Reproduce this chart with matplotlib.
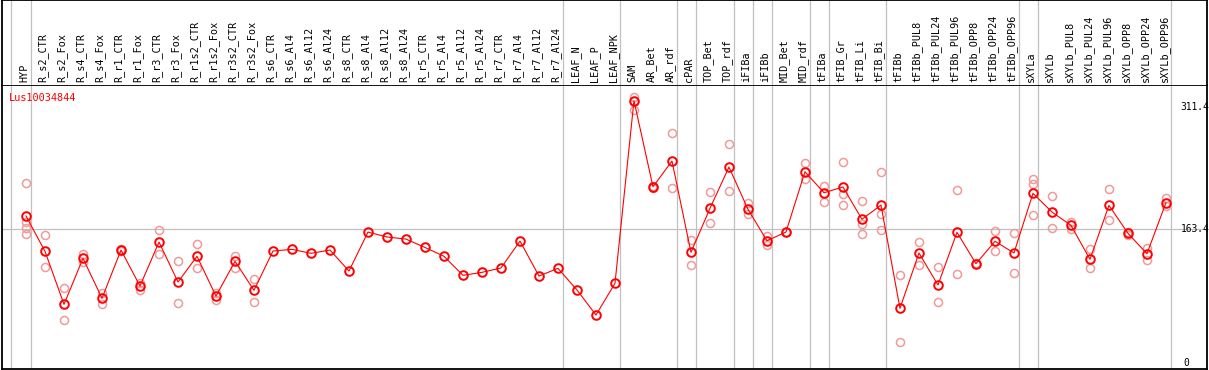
import numpy as np
import matplotlib
matplotlib.use('Agg')
import matplotlib.pyplot as plt

# sample names along the top
labels = ['HYP', 'R_s2_CTR', 'R_s2_Fox', 'R_s4_CTR', 'R_s4_Fox', 'R_r1_CTR', 'R_r1_Fox',
          'R_r3_CTR', 'R_r3_Fox', 'R_r1s2_CTR', 'R_r1s2_Fox', 'R_r3s2_CTR', 'R_r3s2_Fox',
          'R_s6_CTR', 'R_s6_Al4', 'R_s6_Al12', 'R_s6_Al24', 'R_s8_CTR', 'R_s8_Al4',
          'R_s8_Al12', 'R_s8_Al24', 'R_r5_CTR', 'R_r5_Al4', 'R_r5_Al12', 'R_r5_Al24',
          'R_r7_CTR', 'R_r7_Al4', 'R_r7_Al12', 'R_r7_Al24', 'LEAF_N', 'LEAF_P', 'LEAF_NPK',
          'SAM', 'AR_Bet', 'AR_rdf', 'cPAR', 'TOP_Bet', 'TOP_rdf', 'iFIBa', 'iFIBb',
          'MID_Bet', 'MID_rdf', 'tFIBa', 'tFIB_Gr', 'tFIB_Li', 'tFIB_Bi', 'tFIBb',
          'tFIBb_PUL8', 'tFIBb_PUL24', 'tFIBb_PUL96', 'tFIBb_OPP8', 'tFIBb_OPP24', 'tFIBb_OPP96',
          'sXYLa', 'sXYLb', 'sXYLb_PUL8', 'sXYLb_PUL24', 'sXYLb_PUL96', 'sXYLb_OPP8',
          'sXYLb_OPP24', 'sXYLb_OPP96']

# mean expression per sample
means = [178.8, 135.9, 71.6, 127.4, 78.9, 137.5, 93.8, 147.2, 98.7, 129.9, 81.6, 123.8, 88.6,
         136.3, 138.3, 133.5, 137.5, 112.0, 159.3, 153.3, 150.8, 140.6, 129.9, 106.8, 110.4,
         115.7, 148.4, 105.9, 115.3, 89.0, 58.6, 97.1,
         318.7, 214.3, 245.5, 134.7, 188.1, 238.2, 186.9, 148.8, 159.3, 232.5,
         207.0, 214.0, 174.8, 192.1, 66.7, 133.9, 95.0, 159.0, 120.9, 148.1, 133.9,
         206.3, 183.6, 167.5, 126.2, 191.7, 157.8, 133.0, 194.9]

# individual replicates (empty where only the mean is shown)
reps = [[219.2, 171.5, 163.8, 156.6], [155.3, 116.9], [91.4, 52.2], [132.6, 123.3], [85.0, 72.0],
        [138.7, 136.5], [97.8, 89.0], [161.4, 132.3], [123.8, 72.8], [144.4, 115.3], [85.7, 76.8],
        [130.2, 115.7], [101.9, 74.0],
        [], [], [], [], [], [], [], [], [], [], [], [], [], [], [], [], [], [], [],
        [322.8, 318.0, 307.4], [215.6, 213.0], [279.1, 212.4], [149.6, 118.9], [207.5, 169.9],
        [265.8, 208.7], [194.9, 180.8], [154.1, 143.6], [159.5, 158.8], [243.1, 224.0],
        [215.2, 195.8], [244.3, 205.1, 191.7], [197.0, 169.4, 156.9], [231.8, 180.8, 161.4],
        [107.2, 25.5], [146.8, 118.9], [116.5, 74.4], [210.3, 108.4], [121.5, 120.3],
        [160.6, 135.9], [157.8, 109.6],
        [223.3, 217.6, 179.6], [202.7, 163.8], [171.8, 163.3], [138.7, 115.3], [211.2, 173.5],
        [159.0, 156.1], [139.6, 125.4], [200.2, 190.9]]

# group separators (after these columns)
seps = [-0.8, 0.25, 28.25, 31.25, 34.25, 35.25, 37.25, 38.25, 39.25, 41.25, 42.25,
        45.25, 52.25, 53.25, 60.25]
gene = 'Lus10034844'
ymax_lab = 311.4
ymid_lab = 163.4

W, H = 1209, 370
fig = plt.figure(figsize=(W / 100, H / 100), dpi=100)
xl = (-1.263, 62.16)
ax = fig.add_axes([2 / W, 1 / H, 1205 / W, 284 / H])
hd = fig.add_axes([2 / W, 285 / H, 1205 / W, 85 / H])

x = np.arange(len(labels))
mono = 'DejaVu Sans Mono'

for a in (ax, hd):
    a.set_xlim(*xl)
    a.set_xticks([])
    a.set_yticks([])
    for s in a.spines.values():
        s.set_linewidth(1.3)
        s.set_color('black')
    for sx in seps:
        a.axvline(sx, color='#c0c0c0', lw=0.9, zorder=0)

hd.set_ylim(0, 85)
hd.spines['bottom'].set_visible(False)
for i, lab in enumerate(labels):
    hd.text(i - 0.1, 2.5, lab, rotation=90, ha='center', va='bottom',
            family=mono, fontsize=7.3, color='black')

ax.set_ylim(-6.9, 337.8)
ax.axhline(ymid_lab, color='#c0c0c0', lw=0.9, zorder=0)

for i, r in enumerate(reps):
    if r:
        ax.plot([i] * len(r), r, 'o', ms=5.8, mfc='none', mec='#f09a9a', mew=1.1, zorder=2)
ax.plot(x, means, '-', color='red', lw=0.8, zorder=3)
ax.plot(x, means, 'o', ms=6.2, mfc='none', mec='red', mew=1.4, zorder=4)

ax.text(0.006, 0.955, gene, transform=ax.transAxes, color='red', family=mono,
        fontsize=7.4, ha='left', va='center')
ax.text(0.978, ymax_lab, '311.4', transform=ax.get_yaxis_transform(), family=mono,
        fontsize=6.9, ha='left', va='center')
ax.text(0.978, ymid_lab, '163.4', transform=ax.get_yaxis_transform(), family=mono,
        fontsize=6.9, ha='left', va='center')
ax.text(0.980, 0, '0', transform=ax.get_yaxis_transform(), family=mono,
        fontsize=6.9, ha='left', va='center')

fig.savefig('out.png', dpi=100)
